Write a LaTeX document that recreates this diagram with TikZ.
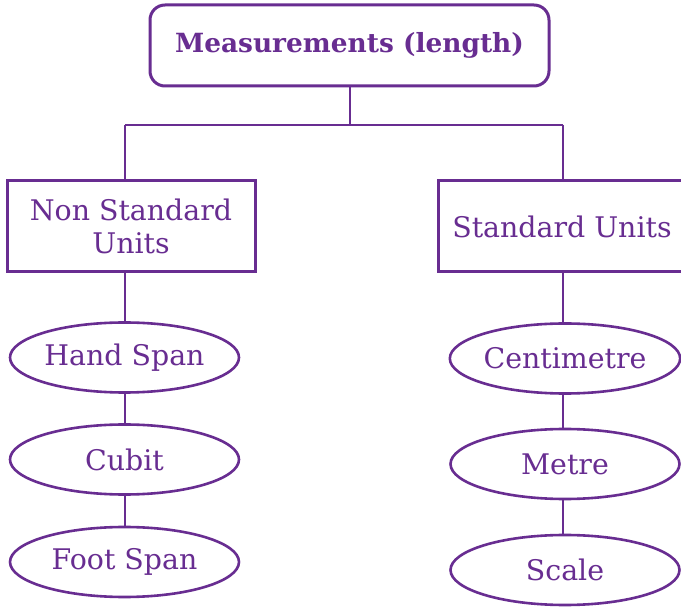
\documentclass[tikz,border=0pt]{standalone}
\usepackage{fontspec}
\setmainfont{DejaVu Serif}
\usetikzlibrary{shapes.geometric}
\definecolor{pur}{RGB}{104,45,145}
\begin{document}
\begin{tikzpicture}[x=1pt,y=-1pt,
  every node/.style={text=pur,font=\fontsize{28.4}{33}\selectfont},
  topbox/.style={draw=pur,line width=3pt,rounded corners=15pt,minimum width=399pt,minimum height=81pt,inner sep=0pt,
     font=\fontsize{26.4}{30}\selectfont\bfseries},
  unitbox/.style={draw=pur,line width=3pt,minimum width=248pt,minimum height=91pt,inner sep=0pt,align=center},
  oval/.style={draw=pur,line width=2.6pt,ellipse,minimum width=229pt,minimum height=70pt,inner sep=0pt},
  conn/.style={draw=pur,line width=2.8pt}]
\useasboundingbox (0,0) rectangle (681,609);
\clip (0,0) rectangle (681,609);
\fill[white] (0,0) rectangle (681,609);
\node[topbox] (top) at (349.5,45.5) {Measurements (length)};
\node[unitbox] (ns) at (131,226.5) {Non Standard\\Units};
\node[unitbox] (st) at (562,226.5) {Standard Units};
\node[oval] (hs) at (124.5,357.5) {Hand Span};
\node[oval] (cu) at (124.5,459.5) {Cubit};
\node[oval] (fs) at (124.5,562) {Foot Span};
\node[oval] (cm) at (565,358.5) {Centimetre};
\node[oval] (me) at (565,464) {Metre};
\node[oval] (sc) at (565,570) {Scale};
\coordinate (bm) at (350,125);
\coordinate (bl) at (125,125);
\coordinate (br) at (563,125);
\draw[conn] (top.south -| bm) -- (bm);
\draw[conn] (bl) -- (br);
\draw[conn] (bl) -- (bl |- ns.north);
\draw[conn] (br) -- (br |- st.north);
\draw[conn] (hs.north -| bl) -- (ns.south -| bl);
\draw[conn] (hs.south -| bl) -- (cu.north -| bl);
\draw[conn] (cu.south -| bl) -- (fs.north -| bl);
\draw[conn] (cm.north -| br) -- (st.south -| br);
\draw[conn] (cm.south -| br) -- (me.north -| br);
\draw[conn] (me.south -| br) -- (sc.north -| br);
\end{tikzpicture}
\end{document}
